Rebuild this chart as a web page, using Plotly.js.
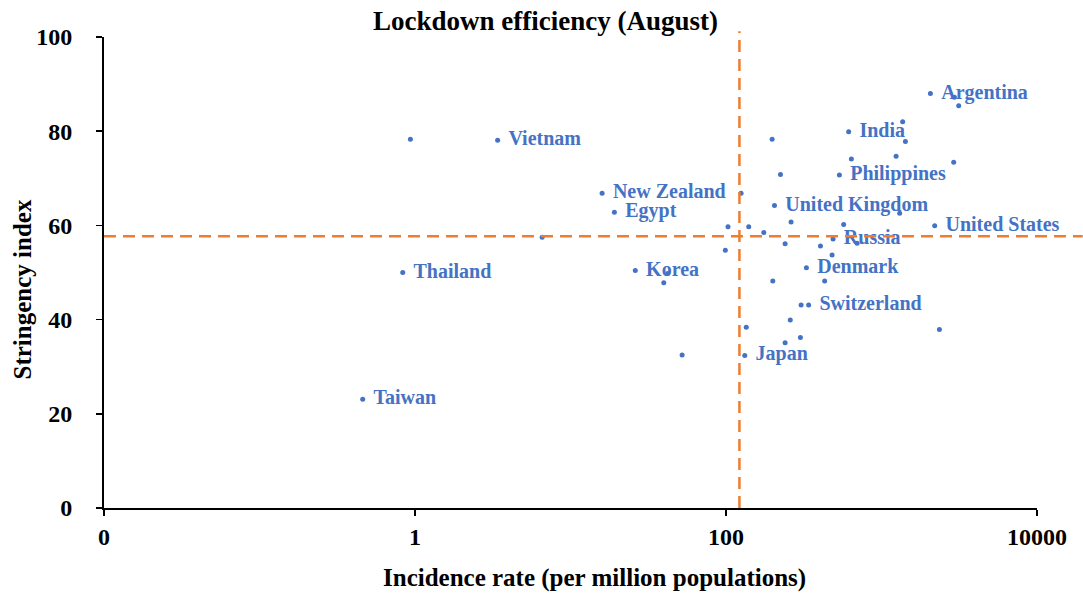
<!DOCTYPE html>
<html>
<head>
<meta charset="utf-8">
<script src="https://cdn.plot.ly/plotly-3.0.1.min.js"></script>
<style>html,body{margin:0;padding:0;background:#fff;}#chart{width:1083px;height:599px;}</style>
</head>
<body>
<div id="chart"></div>
<script>
// Labelled countries
const labelNames = ["Argentina","India","Philippines","United Kingdom","United States","Russia","Denmark","Switzerland","Japan","Vietnam","New Zealand","Egypt","Thailand","Korea","Taiwan"];
const labelIncidence = [2063, 615, 536, 205, 2198, 488, 329, 340, 132, 3.40, 15.97, 19.15, 0.834, 26.1, 0.461];
const labelStringency = [88.0, 79.9, 70.7, 64.2, 59.9, 57.1, 51.0, 43.1, 32.4, 78.1, 66.8, 62.8, 50.0, 50.4, 23.1];

// Unlabelled countries
const otherIncidence = [2944, 3137, 1368, 1425, 198, 640, 1241, 2913, 224, 125, 1309, 262, 571, 103, 140, 175, 697, 240, 405, 99, 481, 200, 431, 304, 259, 135, 2357, 301, 240, 0.934, 6.57, 42.2, 39.8, 52.2];
const otherStringency = [87.2, 85.4, 82.0, 77.8, 78.3, 74.1, 74.7, 73.4, 70.8, 66.8, 62.6, 60.7, 60.2, 59.7, 59.7, 58.5, 56.2, 56.1, 55.6, 54.7, 53.7, 48.2, 48.2, 43.1, 39.9, 38.4, 37.9, 36.2, 35.1, 78.3, 57.5, 49.8, 47.8, 32.5];

// Threshold (median) lines
const incidenceThreshold = 122;
const stringencyThreshold = 57.7;

// Axis ticks
const xTickVals = [0.01, 1, 100, 10000];
const xTickText = ["0", "1", "100", "10000"];
const yTickVals = [0, 20, 40, 60, 80, 100];

const blue = "#4472C4";
const orange = "#ED7D31";
const serif = "Liberation Serif, Times New Roman, serif";

const traces = [
  {
    type: "scatter", mode: "markers",
    x: otherIncidence, y: otherStringency,
    marker: {color: blue, size: 5},
    hoverinfo: "x+y", showlegend: false, cliponaxis: false
  },
  {
    type: "scatter", mode: "markers+text",
    x: labelIncidence, y: labelStringency,
    text: labelNames.map(n => "\u00a0\u200a" + n),
    textposition: "middle right",
    textfont: {family: serif, size: 20, color: blue, weight: "bold"},
    marker: {color: blue, size: 5},
    hoverinfo: "text+x+y", showlegend: false, cliponaxis: false
  }
];

const layout = {
  width: 1083, height: 599,
  paper_bgcolor: "#fff", plot_bgcolor: "#fff",
  margin: {l: 104, r: 46, t: 37, b: 91},
  showlegend: false,
  xaxis: {
    type: "log", range: [-2, 4],
    tickvals: xTickVals, ticktext: xTickText,
    ticks: "outside", ticklen: 6, tickwidth: 1.5, tickcolor: "#000",
    showline: true, linecolor: "#000", linewidth: 2,
    showgrid: false, zeroline: false,
    tickfont: {family: serif, size: 24, color: "#000", weight: "bold"},
    ticklabelstandoff: 0
  },
  yaxis: {
    range: [0, 100],
    tickvals: yTickVals,
    ticks: "outside", ticklen: 6, tickwidth: 1.5, tickcolor: "#000",
    showline: true, linecolor: "#000", linewidth: 2,
    showgrid: false, zeroline: false,
    tickfont: {family: serif, size: 24, color: "#000", weight: "bold"},
    ticklabelstandoff: 19
  },
  shapes: [
    {type: "line", xref: "paper", yref: "y", x0: 0, x1: 1.049, y0: stringencyThreshold, y1: stringencyThreshold,
     line: {color: orange, width: 2.5, dash: "12px,7px"}},
    {type: "line", xref: "x", yref: "paper", x0: incidenceThreshold, x1: incidenceThreshold, y0: 0, y1: 1.012,
     line: {color: orange, width: 2.5, dash: "12px,7px"}}
  ],
  annotations: [
    {text: "Lockdown efficiency (August)", xref: "paper", yref: "paper", x: 0.473, y: 1.0, yshift: 16,
     xanchor: "center", yanchor: "middle", showarrow: false,
     font: {family: serif, size: 27, color: "#000", weight: "bold"}},
    {text: "Incidence rate (per million populations)", xref: "paper", yref: "paper", x: 0.526, y: 0, yshift: -70,
     xanchor: "center", yanchor: "middle", showarrow: false,
     font: {family: serif, size: 25, color: "#000", weight: "bold"}},
    {text: "Stringency index", xref: "paper", yref: "paper", x: 0, xshift: -82, y: 0.464,
     xanchor: "center", yanchor: "middle", textangle: -90, showarrow: false,
     font: {family: serif, size: 25, color: "#000", weight: "bold"}}
  ]
};

Plotly.newPlot("chart", traces, layout, {displayModeBar: false, staticPlot: true});
</script>
</body>
</html>
